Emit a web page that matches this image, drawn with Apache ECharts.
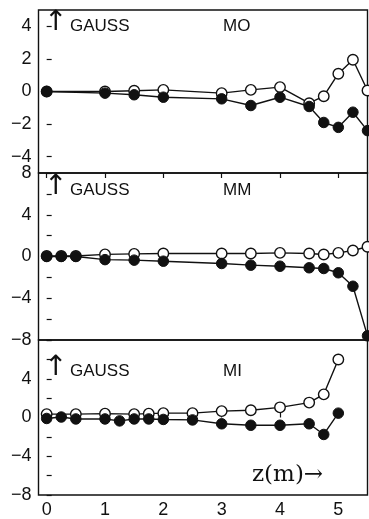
<!DOCTYPE html>
<html>
<head>
<meta charset="utf-8">
<script src="https://cdn.jsdelivr.net/npm/echarts@6/dist/echarts.min.js"></script>
<style>
  html, body { margin: 0; padding: 0; background: #fff; }
  #chart { width: 369px; height: 519px; }
</style>
</head>
<body>
<div id="chart"></div>
<script>
  // z positions (m) and field values (gauss)
  var zMO = [0, 1, 1.5, 2, 3, 3.5, 4, 4.5, 4.75, 5, 5.25, 5.5];
  var moOpen = [0, 0, 0.05, 0.1, -0.1, 0.1, 0.27, -0.72, -0.29, 1.09, 1.95, 0.06];
  var moFilled = [0, -0.1, -0.2, -0.35, -0.45, -0.86, -0.35, -0.92, -1.9, -2.2, -1.27, -2.4];

  var zMM = [0, 0.25, 0.5, 1, 1.5, 2, 3, 3.5, 4, 4.5, 4.75, 5, 5.25, 5.5];
  var mmOpen = [0.05, 0.05, 0.05, 0.2, 0.25, 0.29, 0.29, 0.29, 0.35, 0.29, 0.19, 0.35, 0.57, 0.93];
  var mmFilled = [0, 0, 0, -0.3, -0.35, -0.45, -0.67, -0.83, -0.93, -1.08, -1.15, -1.56, -2.85, -7.6];

  var zMIOpen = [0, 0.5, 1, 1.5, 1.75, 2, 2.5, 3, 3.5, 4, 4.5, 4.75, 5];
  var miOpen = [0.35, 0.35, 0.4, 0.35, 0.4, 0.45, 0.45, 0.66, 0.75, 1.05, 1.54, 2.39, 5.98];
  var zMIFilled = [0, 0.25, 0.5, 1, 1.25, 1.5, 1.75, 2, 2.5, 3, 3.5, 4, 4.5, 4.75, 5];
  var miFilled = [-0.1, 0.05, -0.15, -0.15, -0.35, -0.15, -0.15, -0.2, -0.25, -0.65, -0.8, -0.8, -0.65, -1.75, 0.45];

  var xTicks = [0, 1, 2, 3, 4, 5];
  var y1Labels = [-4, -2, 0, 2, 4];
  var y2Labels = [-8, -4, 0, 4, 8];
  var y2Ticks = [-8, -6, -4, -2, 0, 2, 4, 6, 8];
  var y3Labels = [-8, -4, 0, 4];
  var panelNames = ['MO', 'MM', 'MI'];

  function pairs(xs, ys) {
    return xs.map(function (x, i) { return [x, ys[i]]; });
  }

  var font = '"Liberation Sans", Arial, sans-serif';
  var grids = [
    { left: 38.5, width: 329, top: 10, height: 163 },
    { left: 38.5, width: 329, top: 173, height: 167 },
    { left: 38.5, width: 329, top: 340, height: 162 }
  ];
  grids.forEach(function (g) {
    g.show = true;
    g.borderColor = '#111';
    g.borderWidth = 1.4;
    g.backgroundColor = 'transparent';
  });

  function xAxis(idx, pos, labels, ticks) {
    return {
      type: 'value', gridIndex: idx, position: pos, min: -0.14, max: 5.5,
      axisLine: { show: false },
      splitLine: { show: false },
      axisTick: { show: ticks, inside: true, length: 5, customValues: xTicks,
                  lineStyle: { color: '#111', width: 1.2 } },
      axisLabel: { show: labels, customValues: xTicks, margin: 6,
                   color: '#111', fontSize: 18, fontFamily: font }
    };
  }

  function yAxis(idx, lim, labels, ticks) {
    return {
      type: 'value', gridIndex: idx, min: -lim, max: lim,
      axisLine: { show: false },
      splitLine: { show: false },
      axisTick: { show: true, inside: true, length: 5, customValues: ticks,
                  lineStyle: { color: '#111', width: 1.2 } },
      axisLabel: { customValues: labels, margin: 7, color: '#111',
                   fontSize: 18, fontFamily: font,
                   formatter: function (v) { return String(v).replace('-', '\u2212'); } }
    };
  }

  function openSeries(idx, data) {
    return {
      type: 'line', xAxisIndex: idx, yAxisIndex: idx, data: data, z: 2,
      symbol: 'circle', symbolSize: 10.5, clip: false,
      lineStyle: { color: '#111', width: 1.4 },
      itemStyle: { color: '#fff', borderColor: '#111', borderWidth: 1.4 }
    };
  }
  function filledSeries(idx, data) {
    return {
      type: 'line', xAxisIndex: idx, yAxisIndex: idx, data: data, z: 3,
      symbol: 'circle', symbolSize: 10.5, clip: false,
      lineStyle: { color: '#111', width: 1.4 },
      itemStyle: { color: '#111', borderColor: '#111', borderWidth: 1 }
    };
  }

  var graphic = [];
  var labelY = [28, 192, 373];
  labelY.forEach(function (y, i) {
    graphic.push({ type: 'text', left: 44, top: y - 19,
      style: { text: '\u2191', font: '28px "DejaVu Sans", sans-serif', fill: '#111' } });
    graphic.push({ type: 'text', left: 70, top: y - 10,
      style: { text: 'GAUSS', font: '17px ' + font, fill: '#111' } });
    graphic.push({ type: 'text', left: 223, top: y - 10,
      style: { text: panelNames[i], font: '17px ' + font, fill: '#111' } });
  });
  graphic.push({ type: 'text', left: 252, top: 464,
    style: { text: 'z(m)\u2192', font: '23px "DejaVu Serif", "Liberation Serif", serif', fill: '#111' } });

  var chart = echarts.init(document.getElementById('chart'));
  chart.setOption({
    animation: false,
    backgroundColor: '#fff',
    grid: grids,
    xAxis: [
      xAxis(0, 'bottom', false, false),
      xAxis(1, 'bottom', false, true),
      xAxis(2, 'bottom', true, true),
      xAxis(1, 'top', false, true)
    ],
    yAxis: [
      yAxis(0, 5, y1Labels, y1Labels),
      yAxis(1, 8, y2Labels, y2Ticks),
      yAxis(2, 8, y3Labels, y2Ticks)
    ],
    series: [
      openSeries(0, pairs(zMO, moOpen)),
      filledSeries(0, pairs(zMO, moFilled)),
      openSeries(1, pairs(zMM, mmOpen)),
      filledSeries(1, pairs(zMM, mmFilled)),
      openSeries(2, pairs(zMIOpen, miOpen)),
      filledSeries(2, pairs(zMIFilled, miFilled))
    ],
    graphic: graphic
  });
</script>
</body>
</html>
